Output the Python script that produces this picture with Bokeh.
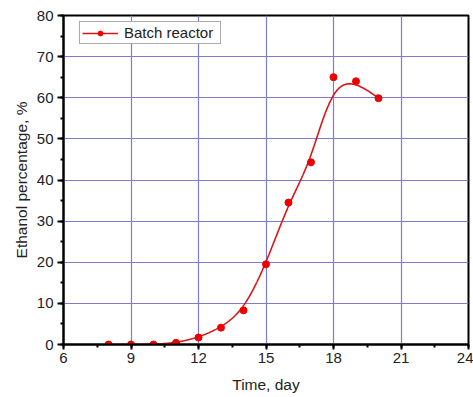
import numpy as np
from bokeh.plotting import figure
from bokeh.models import Range1d, SingleIntervalTicker, Legend, LegendItem
from bokeh.embed import file_html
from bokeh.resources import INLINE

# ---- data ----
time_day = [8, 9, 10, 11, 12, 13, 14, 15, 16, 17, 18, 19, 20]
ethanol_pct = [0.0, 0.0, 0.0, 0.4, 1.7, 4.1, 8.3, 19.5, 34.5, 44.3, 65.0, 64.0, 59.9]
series_label = "Batch reactor"
x_label = "Time, day"
y_label = "Ethanol percentage, %"


def bspline(xs, ys, k=3, n=500):
    """Clamped uniform B-spline with data points as control points (Origin-style)."""
    P = np.column_stack([xs, ys]).astype(float)
    m = len(P)
    knots = np.concatenate([np.zeros(k), np.arange(m - k + 1), np.full(k, m - k)]).astype(float)
    ts = np.linspace(0, m - k, n)
    out = []
    for t in ts:
        i = k
        while i < m - 1 and not (knots[i] <= t < knots[i + 1]):
            i += 1
        d = [P[j + i - k].copy() for j in range(k + 1)]
        for r in range(1, k + 1):
            for j in range(k, r - 1, -1):
                den = knots[j + 1 + i - r] - knots[j + i - k]
                a = 0.0 if den == 0 else (t - knots[j + i - k]) / den
                d[j] = (1 - a) * d[j - 1] + a * d[j]
        out.append(d[k])
    out = np.array(out)
    return out[:, 0], out[:, 1]


cx, cy = bspline(time_day, ethanol_pct)

FONT = "Liberation Sans"

p = figure(width=473, height=397, output_backend="svg", toolbar_location=None,
           x_range=Range1d(6, 24), y_range=Range1d(0, 80),
           min_border_left=63, min_border_right=5, min_border_top=15, min_border_bottom=53)
p.background_fill_color = "white"
p.border_fill_color = "white"
p.outline_line_color = "black"
p.outline_line_width = 2

curve = p.line(cx, cy, line_color="#d81818", line_width=1.6)
pts = p.scatter(time_day, ethanol_pct, size=7, fill_color="#ee0000", line_color="#ee0000")

for ax, tick in ((p.xaxis, SingleIntervalTicker(interval=3, num_minor_ticks=2)),
                 (p.yaxis, SingleIntervalTicker(interval=10, num_minor_ticks=2))):
    ax.ticker = tick
    ax.axis_line_color = "black"
    ax.axis_line_width = 2
    ax.major_tick_line_color = "black"
    ax.major_tick_line_width = 2
    ax.minor_tick_line_color = "black"
    ax.minor_tick_line_width = 2
    ax.major_tick_in = 0
    ax.minor_tick_in = 0
    ax.major_label_text_font = FONT
    ax.major_label_text_font_size = "15px"
    ax.major_label_text_color = "#222222"
    ax.axis_label_text_font = FONT
    ax.axis_label_text_font_size = "15.5px"
    ax.axis_label_text_font_style = "normal"
    ax.axis_label_text_color = "#222222"

p.xaxis.major_tick_out = 5
p.xaxis.minor_tick_out = 3
p.yaxis.major_tick_out = 6
p.yaxis.minor_tick_out = 3
p.xaxis.major_label_standoff = 3
p.yaxis.major_label_standoff = 4
p.xaxis.axis_label = x_label
p.yaxis.axis_label = y_label
p.xaxis.axis_label_standoff = 10
p.yaxis.axis_label_standoff = 4

p.xgrid.grid_line_color = "#7c7cd2"
p.ygrid.grid_line_color = "#7c7cd2"
p.xgrid.grid_line_width = 1.2
p.ygrid.grid_line_width = 1.2

legend = Legend(items=[LegendItem(label=series_label, renderers=[curve, pts])],
                location=(16, 300))
legend.label_text_font = FONT
legend.label_text_font_size = "15px"
legend.label_text_color = "#222222"
legend.glyph_width = 36
legend.glyph_height = 12
legend.label_height = 12
legend.label_standoff = 6
legend.label_width = 94
legend.padding = 2
legend.spacing = 0
legend.margin = 0
legend.border_line_color = "#555555"
legend.border_line_width = 1
legend.background_fill_color = "white"
legend.background_fill_alpha = 1
p.add_layout(legend)

open("out.html", "w").write(file_html(p, INLINE))
